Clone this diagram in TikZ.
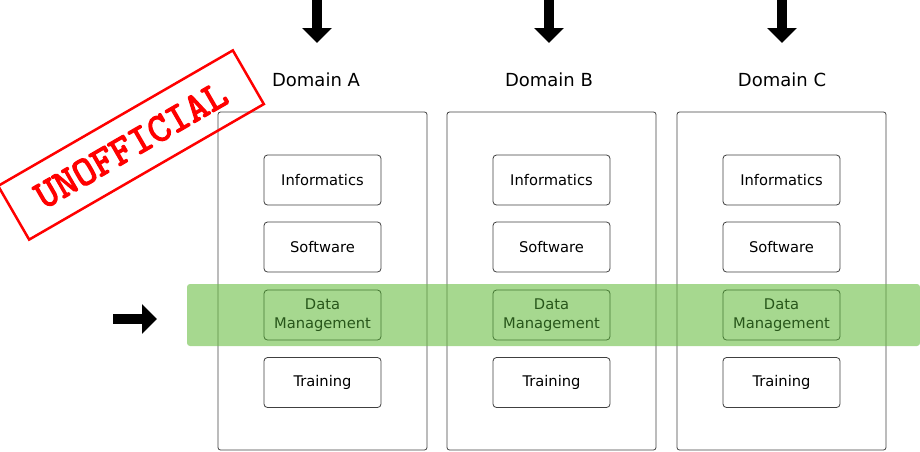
\documentclass[tikz,border=0pt]{standalone}
\usepackage{fontspec}
\setmainfont{DejaVu Sans}
\newfontfamily\stampfont{lmmono10-regular.otf}[FakeBold=3]
\usetikzlibrary{arrows.meta}
\definecolor{bandgreen}{RGB}{106,190,69}
\definecolor{dmtext}{RGB}{40,86,26}
\definecolor{dmborder}{RGB}{70,120,52}
\definecolor{stampred}{RGB}{255,0,0}
\tikzset{
  domainbox/.style={draw=black!75, line width=0.8pt, rounded corners=2.5pt, minimum width=209pt, minimum height=338pt, inner sep=0pt},
  itembox/.style={draw=black!75, line width=0.8pt, rounded corners=3.5pt, fill=white, minimum width=117pt, minimum height=50pt, inner sep=0pt, align=center, font=\fontsize{14.7}{19}\selectfont},
  dmbox/.style={itembox, fill=none, draw=dmborder, text=dmtext},
  domainlabel/.style={font=\fontsize{18}{22}\selectfont, inner sep=0pt},
  bigarrow/.style={line width=9.5pt, -{Triangle[length=15pt,width=29pt]}},
}
\begin{document}
\begin{tikzpicture}[x=1pt,y=-1pt]
\useasboundingbox (0,0) rectangle (920,451);
% domains
\foreach \n/\x in {A/322.5, B/551.5, C/781.5}{
  \node[domainbox] (dom\n) at (\x,281) {};
  \node[itembox] (inf\n) at (\x,180) {Informatics};
  \node[itembox] (sw\n) at (\x,247) {Software};
  \node[itembox] (tr\n) at (\x,382.5) {Training};
}
\node[domainlabel] (labA) at (316,80) {Domain A};
\node[domainlabel] (labB) at (549,80) {Domain B};
\node[domainlabel] (labC) at (782,80) {Domain C};
% green band
\fill[bandgreen, fill opacity=0.6, rounded corners=3pt] (187,284) rectangle (920,346);
\foreach \n/\x in {A/322.5, B/551.5, C/781.5}{
  \node[dmbox] (dm\n) at (\x,315) {Data\\Management};
}
% arrows
\coordinate (a1s) at (317,0); \coordinate (a1e) at (317,43);
\coordinate (a2s) at (549,0); \coordinate (a2e) at (549,43);
\coordinate (a3s) at (782,0); \coordinate (a3e) at (782,43);
\coordinate (rs) at (113,319); \coordinate (re) at (157,319);
\draw[bigarrow] (a1s) -- (a1e);
\draw[bigarrow] (a2s) -- (a2e);
\draw[bigarrow] (a3s) -- (a3e);
\draw[bigarrow] (rs) -- (re);
% stamp
\node[draw=stampred, line width=2.5pt, text=stampred, rotate=30, minimum width=271pt, minimum height=62pt, inner sep=0pt, font=\stampfont\fontsize{41}{41}\selectfont] (stamp) at (131,145) {UNOFFICIAL};
\end{tikzpicture}
\end{document}
